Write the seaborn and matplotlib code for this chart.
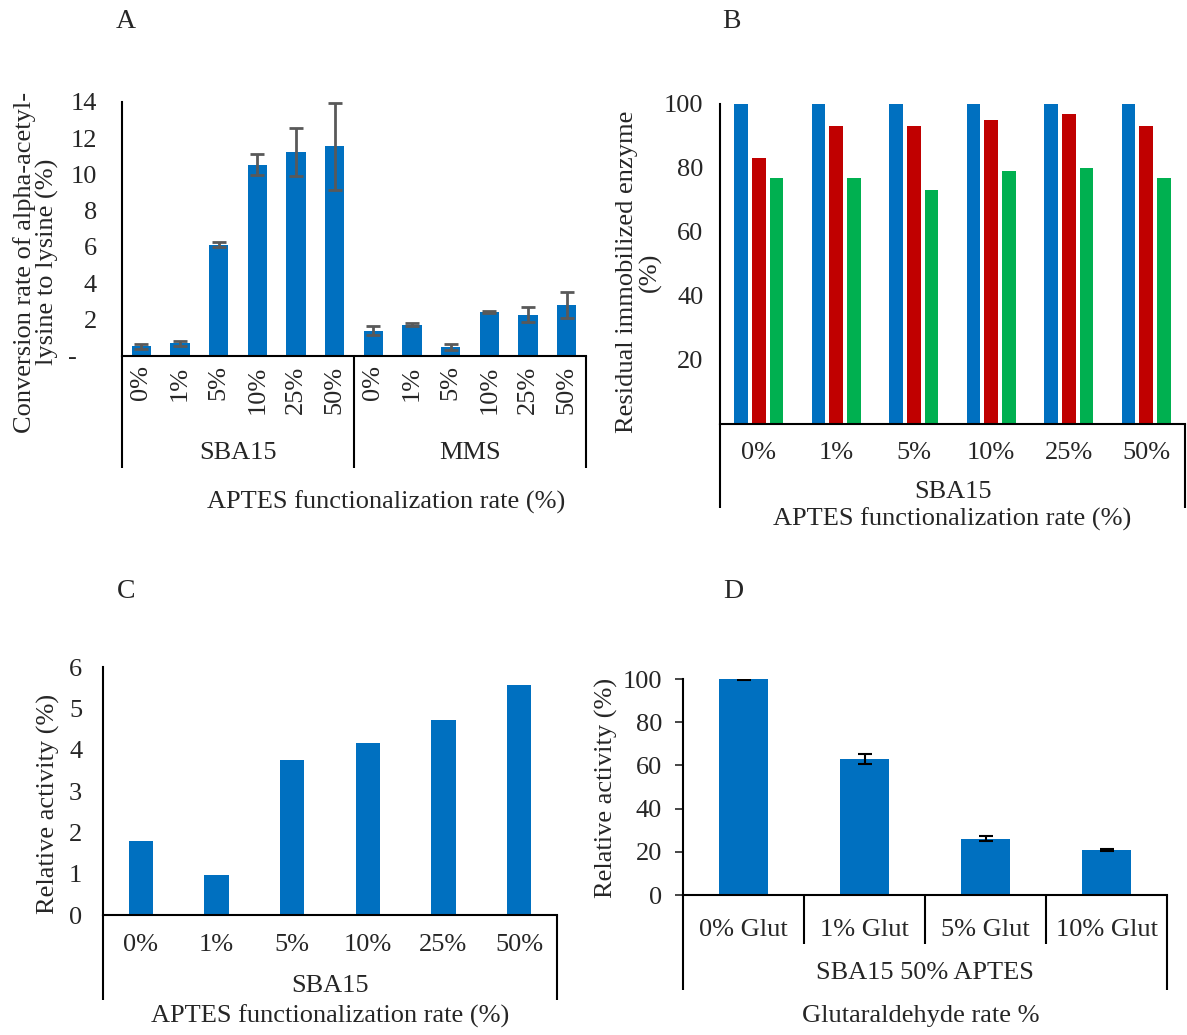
import numpy as np
import pandas as pd
import matplotlib
matplotlib.use("Agg")
import matplotlib.pyplot as plt
import matplotlib.transforms as mtransforms
import seaborn as sns

# -------------------------------
# Data
# -------------------------------
rates = ["0%", "1%", "5%", "10%", "25%", "50%"]

# A: conversion rate, SBA15 then MMS
conv_sba15 = [0.52, 0.68, 6.12, 10.54, 11.26, 11.55]
conv_sba15_err = [0.13, 0.13, 0.14, 0.57, 1.32, 2.40]
conv_mms = [1.39, 1.72, 0.50, 2.40, 2.27, 2.81]
conv_mms_err = [0.23, 0.08, 0.16, 0.07, 0.42, 0.73]
supports = ["SBA15", "MMS"]

# B: residual immobilized enzyme, three series
residual_1 = [100, 100, 100, 100, 100, 100]
residual_2 = [83, 93, 93, 95, 97, 93]
residual_3 = [77, 77, 73, 79, 80, 77]
series_names = ["Series 1", "Series 2", "Series 3"]

# C: relative activity (SBA15)
rel_activity = [1.80, 0.96, 3.74, 4.16, 4.72, 5.56]

# D: relative activity vs glutaraldehyde
glut_labels = ["0% Glut", "1% Glut", "5% Glut", "10% Glut"]
glut_activity = [100.0, 62.9, 26.0, 20.9]
glut_err = [0.3, 2.3, 1.2, 0.3]

BLUE = "#0070C0"
RED = "#C00000"
GREEN = "#00B050"

# -------------------------------
# Style
# -------------------------------
sns.set_style("white")
plt.rcParams["font.family"] = ["Liberation Serif", "DejaVu Serif"]
plt.rcParams["font.size"] = 19
plt.rcParams["mathtext.default"] = "regular"

W, H = 1187, 1035
fig = plt.figure(figsize=(W / 100, H / 100), dpi=100)


def fx(x):
    return x / W


def fy(y):
    return 1 - y / H


def make_axes(left, right, top, bottom):
    return fig.add_axes([fx(left), fy(bottom), fx(right) - fx(left), fy(top) - fy(bottom)])


def style_axes(ax):
    for s in ["top", "right"]:
        ax.spines[s].set_visible(False)
    for s in ["left", "bottom"]:
        ax.spines[s].set_linewidth(1.5)
        ax.spines[s].set_color("black")
    ax.set_xlabel("")
    ax.set_ylabel("")


def vline(ax, xdata, y0, y1):
    trans = mtransforms.blended_transform_factory(ax.transData, fig.transFigure)
    ax.plot([xdata, xdata], [fy(y0), fy(y1)], transform=trans, color="black",
            lw=1.5, clip_on=False, solid_capstyle="butt")


def label_at(ax, xdata, y, text):
    trans = mtransforms.blended_transform_factory(ax.transData, fig.transFigure)
    ax.text(xdata, fy(y), text, transform=trans, ha="center", va="center")


# -------------------------------
# Panel A
# -------------------------------
axA = make_axes(122, 586, 102, 355.7)
dfA = pd.DataFrame({
    "key": [f"{s} {r}" for s in supports for r in rates],
    "value": conv_sba15 + conv_mms,
})
sns.barplot(data=dfA, x="key", y="value", color=BLUE, saturation=1,
            width=0.5, linewidth=0, ax=axA)
axA.errorbar(np.arange(len(dfA)), dfA["value"], yerr=conv_sba15_err + conv_mms_err,
             fmt="none", ecolor="#595959", elinewidth=2, capsize=5, capthick=2)
style_axes(axA)
axA.set_ylim(0, 14)
axA.set_xlim(-0.5, len(dfA) - 0.5)
axA.set_yticks(range(0, 15, 2))
axA.set_yticklabels(["-   "] + [str(v) for v in range(2, 15, 2)])
axA.set_xticks(range(len(dfA)))
axA.set_xticklabels(rates * 2, rotation=90)
axA.tick_params(axis="y", length=0, pad=18)
axA.tick_params(axis="x", length=0, pad=7)
for xs in [-0.5, 5.5, 11.5]:
    vline(axA, xs, 355.7, 468)
label_at(axA, 2.5, 453, "SBA15")
label_at(axA, 8.5, 453, "MMS")
fig.text(fx(386), fy(502), "APTES functionalization rate (%)", ha="center", va="center")
fig.text(fx(36), fy(262), "Conversion rate of alpha-acetyl-\nlysine to lysine (%)",
         rotation=90, ha="center", va="center", linespacing=1.05)
fig.text(fx(126), fy(22), "A", ha="center", va="center", fontsize=20)

# -------------------------------
# Panel B
# -------------------------------
axB = make_axes(720, 1185, 104, 424)
dfB = pd.DataFrame({
    "rate": rates * 3,
    "series": np.repeat(series_names, len(rates)),
    "value": residual_1 + residual_2 + residual_3,
})
sns.barplot(data=dfB, x="rate", y="value", hue="series", order=rates,
            palette=[BLUE, RED, GREEN], saturation=1, width=0.68, gap=0.23,
            linewidth=0, legend=False, ax=axB)
style_axes(axB)
axB.set_ylim(0, 100)
axB.set_xlim(-0.5, len(rates) - 0.5)
axB.set_yticks(range(20, 101, 20))
axB.tick_params(axis="y", length=0, pad=12)
axB.tick_params(axis="x", length=0, pad=13)
for xs in [-0.5, len(rates) - 0.5]:
    vline(axB, xs, 424, 508)
label_at(axB, 2.5, 492, "SBA15")
label_at(axB, 2.5, 519, "APTES functionalization rate (%)")
fig.text(fx(639), fy(272), "Residual immobilized enzyme\n(%)", rotation=90,
         ha="center", va="center", linespacing=1.05)
fig.text(fx(731), fy(22), "B", ha="center", va="center", fontsize=20)

# -------------------------------
# Panel C
# -------------------------------
axC = make_axes(103, 557, 667, 915)
dfC = pd.DataFrame({"rate": rates, "value": rel_activity})
sns.barplot(data=dfC, x="rate", y="value", color=BLUE, saturation=1,
            width=0.32, linewidth=0, ax=axC)
style_axes(axC)
axC.set_ylim(0, 6)
axC.set_xlim(-0.5, len(rates) - 0.5)
axC.set_yticks(range(0, 7))
axC.tick_params(axis="y", length=0, pad=15)
axC.tick_params(axis="x", length=0, pad=14)
for xs in [-0.5, len(rates) - 0.5]:
    vline(axC, xs, 915, 1000)
label_at(axC, 2.5, 986, "SBA15")
label_at(axC, 2.5, 1016, "APTES functionalization rate (%)")
fig.text(fx(48), fy(804), "Relative activity (%)", rotation=90, ha="center", va="center")
fig.text(fx(126), fy(592), "C", ha="center", va="center", fontsize=20)

# -------------------------------
# Panel D
# -------------------------------
axD = make_axes(683, 1167, 679, 895)
dfD = pd.DataFrame({"glut": glut_labels, "value": glut_activity})
sns.barplot(data=dfD, x="glut", y="value", color=BLUE, saturation=1,
            width=0.4, linewidth=0, ax=axD)
axD.errorbar(np.arange(len(dfD)), dfD["value"], yerr=glut_err, fmt="none",
             ecolor="black", elinewidth=1.5, capsize=5, capthick=1.5)
style_axes(axD)
axD.set_ylim(0, 100)
axD.set_xlim(-0.5, len(glut_labels) - 0.5)
axD.set_yticks(range(0, 101, 20))
axD.tick_params(axis="y", length=6, width=1.2, direction="out", pad=9, left=True)
axD.tick_params(axis="x", length=0, pad=17)
for i in range(len(glut_labels) + 1):
    xs = i - 0.5
    if i in (0, len(glut_labels)):
        vline(axD, xs, 895, 990)
    else:
        vline(axD, xs, 895, 944)
label_at(axD, 1.5, 973, "SBA15 50% APTES")
fig.text(fx(921), fy(1016), "Glutaraldehyde rate %", ha="center", va="center")
fig.text(fx(606), fy(788), "Relative activity (%)", rotation=90, ha="center", va="center")
fig.text(fx(733), fy(592), "D", ha="center", va="center", fontsize=20)

fig.savefig("out.png", dpi=100)
